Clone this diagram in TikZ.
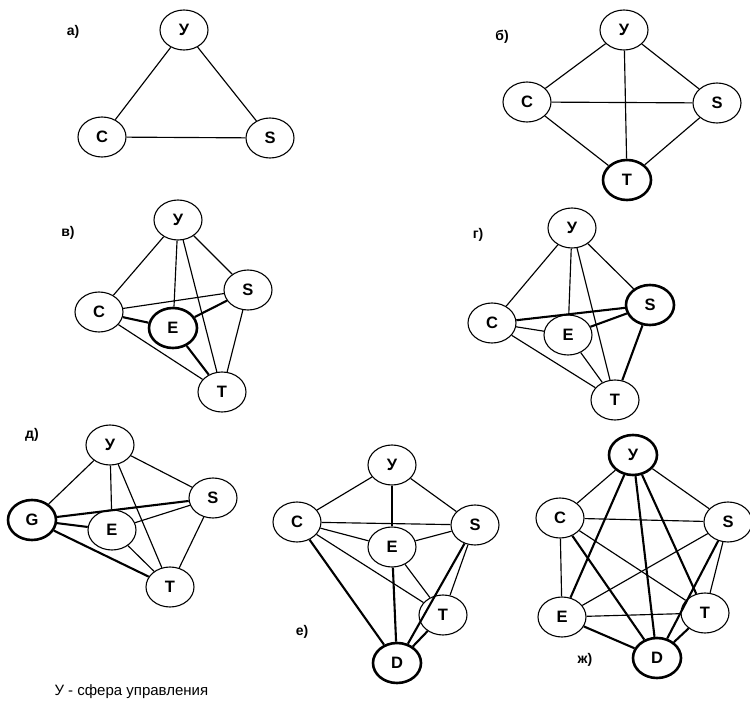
\documentclass[tikz,border=0pt]{standalone}
\usepackage{fontspec}
\setmainfont{Liberation Sans}
\usetikzlibrary{shapes.geometric}
\tikzset{
  vtx/.style={ellipse, draw, fill=white, line width=1.1pt, minimum width=48pt, minimum height=40pt, inner sep=0pt, font=\bfseries\fontsize{16.5}{16.5}\selectfont},
  hub/.style={vtx, line width=2.6pt},
  edge/.style={line width=1.15pt},
  bold edge/.style={line width=2.1pt},
  sublabel/.style={font=\bfseries\fontsize{14}{14}\selectfont},
}
\begin{document}
\begin{tikzpicture}[x=1pt,y=-1pt]
\useasboundingbox (0,0) rectangle (750,711);
% a)
\node[sublabel] (la) at (73,32) {а)};
\node[vtx] (aY) at (184,30) {У};
\node[vtx] (aC) at (102,137) {C};
\node[vtx] (aS) at (270,138) {S};
\draw[edge] (aY) -- (aC);
\draw[edge] (aY) -- (aS);
\draw[edge] (aC) -- (aS);
% b)
\node[sublabel] (lb) at (502,37) {б)};
\node[vtx] (bY) at (624,30) {У};
\node[vtx] (bC) at (527,102) {C};
\node[vtx] (bS) at (717,103) {S};
\node[hub] (bT) at (627,180) {T};
\draw[edge] (bY) -- (bC);
\draw[edge] (bY) -- (bS);
\draw[edge] (bY) -- (bT);
\draw[edge] (bC) -- (bS);
\draw[edge] (bC) -- (bT);
\draw[edge] (bS) -- (bT);
% v)
\node[sublabel] (lv) at (68,233) {в)};
\node[vtx] (vY) at (178,220) {У};
\node[vtx] (vS) at (248,290) {S};
\node[vtx] (vC) at (99,312) {C};
\node[vtx] (vT) at (222,392) {T};
\node[hub] (vE) at (173,328) {E};
\draw[edge] (vY) -- (vC);
\draw[edge] (vY) -- (vE);
\draw[edge] (vY) -- (vT);
\draw[edge] (vY) -- (vS);
\draw[edge] (vC) -- (vS);
\draw[edge] (vC) -- (vT);
\draw[edge] (vS) -- (vT);
\draw[bold edge] (vC) -- (vE);
\draw[bold edge] (vE) -- (vS);
\draw[bold edge] (vE) -- (vT);
% g)
\node[sublabel] (lg) at (478,235) {г)};
\node[vtx] (gY) at (572,228) {У};
\node[vtx] (gC) at (492,323) {C};
\node[vtx] (gE) at (568,335) {E};
\node[vtx] (gT) at (615,400) {T};
\node[hub] (gS) at (650,305) {S};
\draw[edge] (gY) -- (gC);
\draw[edge] (gY) -- (gE);
\draw[edge] (gY) -- (gT);
\draw[edge] (gY) -- (gS);
\draw[edge] (gC) -- (gE);
\draw[edge] (gC) -- (gT);
\draw[edge] (gE) -- (gT);
\draw[bold edge] (gC) -- (gS);
\draw[bold edge] (gE) -- (gS);
\draw[bold edge] (gS) -- (gT);
% d)
\node[sublabel] (ld) at (32,435) {д)};
\node[vtx] (dY) at (110,445) {У};
\node[vtx] (dS) at (213,498) {S};
\node[vtx] (dE) at (112,530) {E};
\node[vtx] (dT) at (170,587) {T};
\node[hub] (dG) at (32,520) {G};
\draw[edge] (dY) -- (dG);
\draw[edge] (dY) -- (dE);
\draw[edge] (dY) -- (dT);
\draw[edge] (dY) -- (dS);
\draw[edge] (dE) -- (dS);
\draw[edge] (dE) -- (dT);
\draw[edge] (dS) -- (dT);
\draw[bold edge] (dG) -- (dS);
\draw[bold edge] (dG) -- (dE);
\draw[bold edge] (dG) -- (dT);
% e)
\node[sublabel] (le) at (302,632) {е)};
\node[vtx] (eY) at (392,465) {У};
\node[vtx] (eC) at (297,522) {C};
\node[vtx] (eS) at (475,525) {S};
\node[vtx] (eE) at (392,547) {E};
\node[vtx] (eT) at (443,615) {T};
\node[hub] (eD) at (397,663) {D};
\draw[edge] (eY) -- (eC);
\draw[edge] (eY) -- (eE);
\draw[edge] (eY) -- (eS);
\draw[edge] (eC) -- (eS);
\draw[edge] (eC) -- (eE);
\draw[edge] (eE) -- (eS);
\draw[edge] (eC) -- (eT);
\draw[edge] (eE) -- (eT);
\draw[edge] (eS) -- (eT);
\draw[bold edge] (eC) -- (eD);
\draw[bold edge] (eE) -- (eD);
\draw[bold edge] (eS) -- (eD);
\draw[bold edge] (eT) -- (eD);
% zh)
\node[sublabel] (lzh) at (585,660) {ж)};
\node[hub] (zY) at (633,455) {У};
\node[vtx] (zC) at (560,518) {C};
\node[vtx] (zS) at (728,522) {S};
\node[vtx] (zE) at (562,617) {E};
\node[vtx] (zT) at (705,613) {T};
\node[hub] (zD) at (657,658) {D};
\draw[edge] (zY) -- (zC);
\draw[edge] (zY) -- (zS);
\draw[edge] (zC) -- (zS);
\draw[edge] (zC) -- (zE);
\draw[edge] (zC) -- (zT);
\draw[edge] (zE) -- (zS);
\draw[edge] (zE) -- (zT);
\draw[edge] (zS) -- (zT);
\draw[bold edge] (zY) -- (zE);
\draw[bold edge] (zY) -- (zD);
\draw[bold edge] (zY) -- (zT);
\draw[bold edge] (zC) -- (zD);
\draw[bold edge] (zE) -- (zD);
\draw[bold edge] (zS) -- (zD);
\draw[bold edge] (zT) -- (zD);
% caption
\node[anchor=west, font=\fontsize{15}{15}\selectfont] (cap) at (51,692) {У - сфера управления};
\end{tikzpicture}
\end{document}
